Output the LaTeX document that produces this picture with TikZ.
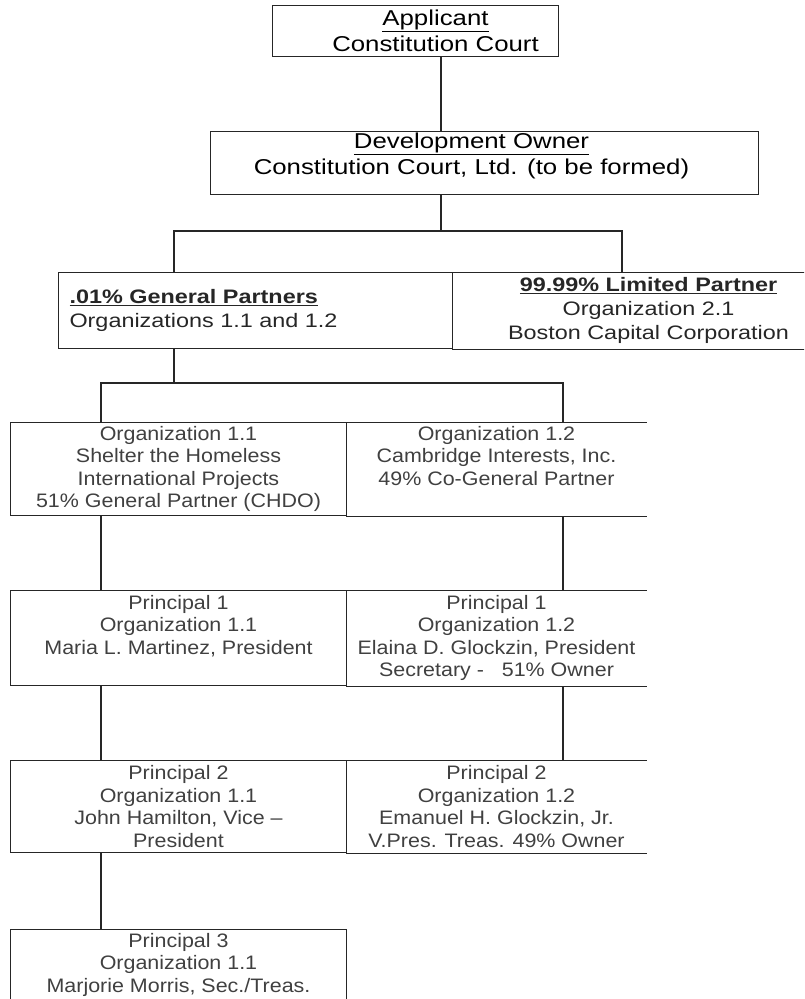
\documentclass[tikz,border=0pt]{standalone}
\usepackage{fontspec}
\setmainfont{Liberation Sans}
\newfontfamily\topfont[FakeStretch=1.2]{Liberation Sans}
\newfontfamily\partnerfont[FakeStretch=1.2]{Liberation Sans}
\newfontfamily\cellfont[FakeStretch=1.1]{Liberation Sans}

\begin{document}
\begin{tikzpicture}[x=1pt, y=-1pt, line width=1.3pt, draw=black!85,
  box/.style={draw, line width=1pt, inner sep=0pt, anchor=north west, align=center},
  topbox/.style={box, text=black, font=\topfont\fontsize{21.5}{26}\selectfont},
  partbox/.style={box, text=black!85, minimum height=76pt, font=\partnerfont\fontsize{19.5}{24}\selectfont},
  cell/.style={box, text=black!75, minimum width=336pt, font=\cellfont\fontsize{19.5}{22.5}\selectfont},
  opencell/.style={cell, draw=none, minimum width=300pt},
  short/.style={text depth=27pt}]
\useasboundingbox (0,0) rectangle (804,999);
\clip (0,0) rectangle (804,999);

\node[topbox, minimum width=286pt, minimum height=51pt] (applicant) at (272,5)
  {\hspace*{40pt}\underline{Applicant}\\\hspace*{40pt}Constitution Court};
\node[topbox, minimum width=548pt, minimum height=63pt, text depth=19pt] (owner) at (210,131)
  {\underline{Development Owner}\hspace*{26pt}\\Constitution Court, Ltd. (to be formed)\hspace*{26pt}};

\node[partbox, align=left, inner xsep=11pt, text width=372pt, text depth=28pt] (gp) at (58,272)
  {\textbf{\underline{.01\% General Partners}}\\Organizations 1.1 and 1.2};
\node[partbox, draw=none, minimum width=392pt] (lp) at (452,272)
  {\textbf{\underline{99.99\% Limited Partner}}\\Organization 2.1\\Boston Capital Corporation};

% organizations
\node[cell, minimum height=93pt] (org11) at (10,422)
  {Organization 1.1\\Shelter the Homeless\\International Projects\\51\% General Partner (CHDO)};
\node[opencell, short, minimum height=93pt] (org12) at (346,422)
  {Organization 1.2\\Cambridge Interests, Inc.\\49\% Co-General Partner};

% principals
\node[cell, short, minimum height=95pt] (p11) at (10,590)
  {Principal 1\\Organization 1.1\\Maria L. Martinez, President};
\node[opencell, minimum height=95pt] (p12) at (346,590)
  {Principal 1\\Organization 1.2\\Elaina D. Glockzin, President\\Secretary -\ \ \ 51\% Owner};
\node[cell, minimum height=92pt] (p21) at (10,760)
  {Principal 2\\Organization 1.1\\John Hamilton, Vice –\\President};
\node[opencell, minimum height=92pt] (p22) at (346,760)
  {Principal 2\\Organization 1.2\\Emanuel H. Glockzin, Jr.\\V.Pres. Treas. 49\% Owner};
\node[cell, short, minimum height=93pt] (p31) at (10,929)
  {Principal 3\\Organization 1.1\\Marjorie Morris, Sec./Treas.};

% boxes left open on the right
\foreach \n in {lp,org12,p12,p22}
  \draw[line width=1pt] (\n.north west) -- (\n.north east) (\n.south west) -- (\n.south east);

\coordinate (spine) at (441,0);
\coordinate (gpx) at (174,0);
\coordinate (lpx) at (622,0);
\coordinate (lcol) at (101,0);
\coordinate (rcol) at (563,0);
\coordinate (ownbar) at (0,231);
\coordinate (gpbar) at (0,383);

\draw (applicant.south -| spine) -- (owner.north -| spine);
\draw (owner.south -| spine) -- (spine |- ownbar);
\draw (gp.north -| gpx) -- (gpx |- ownbar) -- (lpx |- ownbar) -- (lp.north -| lpx);
\draw (gp.south -| gpx) -- (gpx |- gpbar);
\draw (org11.north -| lcol) -- (lcol |- gpbar) -- (rcol |- gpbar) -- (org12.north -| rcol);
\draw (org11.south -| lcol) -- (p11.north -| lcol);
\draw (org12.south -| rcol) -- (p12.north -| rcol);
\draw (p11.south -| lcol) -- (p21.north -| lcol);
\draw (p12.south -| rcol) -- (p22.north -| rcol);
\draw (p21.south -| lcol) -- (p31.north -| lcol);
\end{tikzpicture}
\end{document}
